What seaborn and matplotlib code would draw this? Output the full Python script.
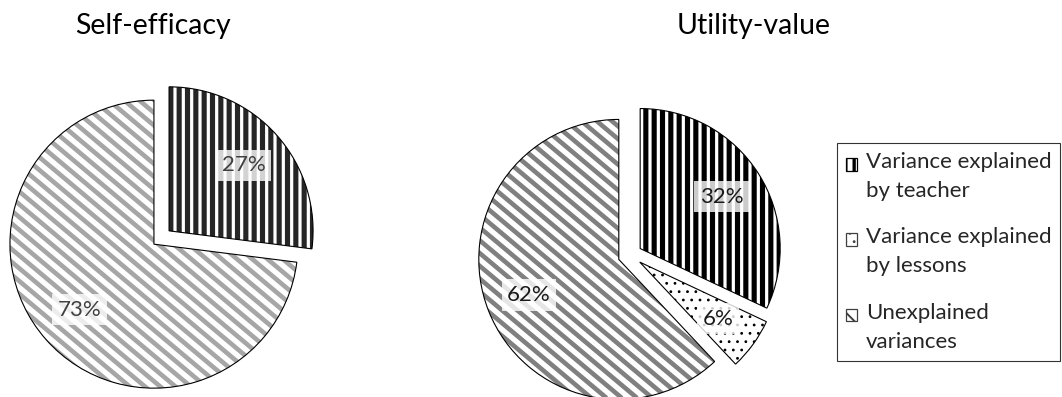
import matplotlib
matplotlib.use("Agg")
import numpy as np
import matplotlib.pyplot as plt
from matplotlib.patches import Patch, Rectangle
from matplotlib.collections import LineCollection
from matplotlib.legend_handler import HandlerPatch
import seaborn as sns

sns.set_theme(style="white")
plt.rcParams["font.family"] = ["Lato", "DejaVu Sans"]

# Share of variance (%) in each outcome
components = ["Variance explained\nby teacher",
              "Variance explained\nby lessons",
              "Unexplained\nvariances"]
titles = ["Self-efficacy", "Utility-value"]
self_efficacy = [27, 73]        # teacher, unexplained
utility_value = [32, 6, 62]     # teacher, lessons, unexplained

W, H, DPI = 1062, 397, 100
fig = plt.figure(figsize=(W / DPI, H / DPI), dpi=DPI)


def pie_axes(cx, cy, r, span=1.2):
    """Square axes (pixel layout) whose unit circle has radius r px at (cx, cy)."""
    side = 2 * span * r
    ax = fig.add_axes([(cx - span * r) / W, (H - cy - span * r) / H, side / W, side / H])
    ax.set_xlim(-span, span)
    ax.set_ylim(-span, span)
    ax.set_aspect("equal")
    ax.axis("off")
    return ax


def diagonal_texture(ax, wedge, r_px, color, gap_px=9.8, width_px=4.6, angle=40):
    """Fill a wedge with descending diagonal stripes (texture, clipped to the wedge)."""
    a = np.deg2rad(angle)
    d = np.array([np.cos(a), -np.sin(a)])      # stripe direction
    n = np.array([np.sin(a), np.cos(a)])       # stripe normal
    offsets = np.arange(-2.5, 2.5, gap_px / r_px)
    segs = [[c * n - 3 * d, c * n + 3 * d] for c in offsets]
    lc = LineCollection(segs, colors=color, linewidths=width_px * 72 / DPI,
                        capstyle="butt")
    ax.add_collection(lc)
    lc.set_clip_path(wedge)


def draw_pie(ax, r_px, values, styles, explode, label_color):
    expl = [explode] * len(values)
    ws, _ = ax.pie(values, startangle=90, counterclock=False, explode=expl,
                   wedgeprops=dict(facecolor="white", linewidth=0))
    for w, (kind, color, lw) in zip(ws, styles):
        if kind == "diag":
            diagonal_texture(ax, w, r_px, color)
        else:
            w.set_hatch(kind)
            w.set_edgecolor(color)
            if hasattr(w, "set_hatch_linewidth"):
                w.set_hatch_linewidth(lw)
    _, _, pcts = ax.pie(values, startangle=90, counterclock=False, explode=expl,
                        autopct=lambda p: f"{p:.0f}%", pctdistance=0.69,
                        wedgeprops=dict(fill=False, edgecolor="black", linewidth=0.8,
                                        zorder=2),
                        textprops=dict(fontsize=16, color=label_color, zorder=4))
    for t in pcts:
        t.set_bbox(dict(boxstyle="square,pad=0.25", facecolor="white",
                        alpha=0.8, edgecolor="none"))
    ax.set_xlim(-1.2, 1.2)
    ax.set_ylim(-1.2, 1.2)


ax1 = pie_axes(161.5, 237.5, 144)
draw_pie(ax1, 144, self_efficacy,
         [("||", "#262626", 3.7), ("diag", "#a6a6a6", None)],
         0.07, "#404040")

ax2 = pie_axes(630, 255, 140)
draw_pie(ax2, 140, utility_value,
         [("||", "#000000", 3.7), ("..", "#000000", 0.8), ("diag", "#808080", None)],
         0.086, "#1a1a1a")

fig.text(153 / W, 1 - 26 / H, titles[0], fontsize=20.5, ha="center", va="center", color="black")
fig.text(754 / W, 1 - 26 / H, titles[1], fontsize=20.5, ha="center", va="center", color="black")


def first_line_box(legend, orig_handle, xdescent, ydescent, width, height, fontsize):
    # square key aligned with the first text line of a two-line label
    return Rectangle((-xdescent, -ydescent + 0.55 * fontsize), width, height)


key_styles = [("||", "#000000", 2.4), ("..", "#404040", 0.8), ("\\\\", "#404040", 1.4)]
handles = []
for hatch, color, hlw in key_styles:
    p = Patch(facecolor="white", edgecolor=color, hatch=hatch, linewidth=0.9)
    if hasattr(p, "set_hatch_linewidth"):
        p.set_hatch_linewidth(hlw)
    handles.append(p)

leg = fig.legend(handles, components, loc="upper left",
                 bbox_to_anchor=(837 / W, 1 - 143 / H),
                 handler_map={Patch: HandlerPatch(patch_func=first_line_box)},
                 fontsize=16, frameon=True, fancybox=False, shadow=False,
                 handlelength=0.5, handleheight=0.5, handletextpad=0.4,
                 labelspacing=1.2, borderpad=0.4, borderaxespad=0)
leg.get_frame().set_edgecolor("black")
leg.get_frame().set_linewidth(0.8)
for t in leg.get_texts():
    t.set_linespacing(1.55)
for h, (hatch, color, hlw) in zip(leg.legend_handles, key_styles):
    if hasattr(h, "set_hatch_linewidth"):
        h.set_hatch_linewidth(hlw)

fig.savefig("out.png", dpi=DPI, facecolor="white")
